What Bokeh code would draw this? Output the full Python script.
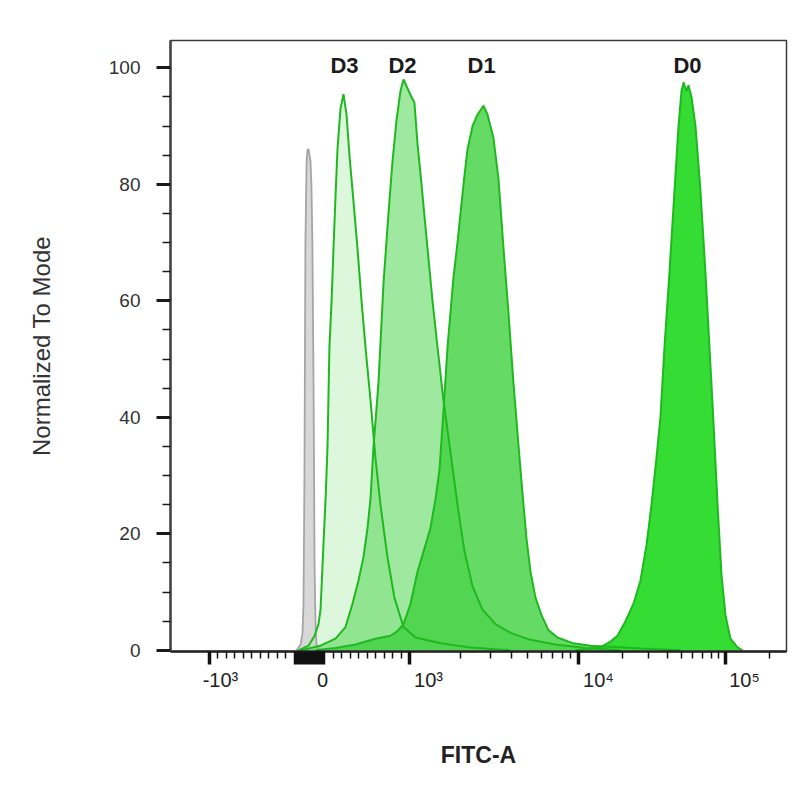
import numpy as np
from bokeh.plotting import figure
from bokeh.models import Range1d, FixedTicker, CustomJSTickFormatter, LinearAxis
from bokeh.core.properties import value
from bokeh.embed import file_html
from bokeh.resources import INLINE

# ---------------- data (FITC-A intensity, % of mode) ----------------
GRAY_X = [-54, -37, -29, -25, -21, -17, -12, -8, -4, 0, 4, 8, 12, 17, 21, 25, 29, 42]
GRAY_Y = [0, 1, 3, 8, 30, 70, 84, 86, 86, 85, 84, 80, 70, 45, 15, 5, 1, 0]

D3_X = [-46, -4, 21, 37.5, 46, 58, 67, 75, 83, 92, 100, 124, 147, 183, 218, 254,
        289, 337, 384, 432, 479, 538, 597, 656, 739, 822, 929, 1085, 1526, 2295, 3960]
D3_Y = [0, 0.8, 2.5, 4.5, 7, 18, 26, 35, 52, 60, 69, 78, 86, 93, 95.5, 92,
        85, 77, 69, 60, 52, 43, 33, 25, 16, 9, 4, 2.2, 1.2, 0.5, 0]

D2_X = [-37, 46, 124, 242, 325, 396, 455, 503, 538, 574, 633, 692, 751, 799, 846,
        893, 929, 976, 1028, 1070, 1115, 1178, 1278, 1368, 1465, 1588, 1748, 1923,
        2115, 2360, 2700, 3230, 3960, 5200, 7300, 11160, 19300]
D2_Y = [0, 0.8, 2, 4, 8, 12, 16, 21, 26, 35, 46, 63, 75, 84, 91,
        96, 98, 96.5, 95, 94, 87, 80, 69, 60, 52, 43, 34, 25,
        17, 11, 7, 4.5, 3, 1.8, 1, 0.4, 0]

D1_X = [25, 124, 360, 597, 775, 858, 929, 1014, 1115, 1227, 1331, 1425, 1505, 1588,
        1678, 1748, 1820, 1923, 2003, 2087, 2204, 2360, 2526, 2739, 2894, 3138, 3360,
        3600, 3850, 4120, 4420, 4660, 4930, 5200, 5570, 6050, 6630, 7510, 9330,
        12070, 16500, 26400, 49400]
D1_Y = [0, 0.4, 1, 2, 2.5, 3.3, 4.5, 8, 13.5, 17.5, 21, 26, 31, 41,
        52, 58, 64, 70, 75, 80, 86, 90, 92, 93.5, 92, 88, 81,
        69, 58, 46, 35, 27, 19, 13.5, 9, 6, 3.5, 2.2, 1.2,
        0.8, 0.6, 0.3, 0]

D0_X = [9590, 14110, 16500, 18420, 20880, 23670, 26400, 29000, 31380, 33900, 36100,
        38430, 41600, 45000, 47900, 50200, 51800, 54300, 56000, 58700, 62500, 67500,
        73000, 77800, 82900, 88300, 93900, 100000, 108100, 120700, 130500]
D0_Y = [0, 0.5, 1.5, 2.5, 5, 8, 12, 18, 25, 33, 40,
        52, 65, 79, 90, 96, 97.5, 96, 97, 95, 90, 79,
        65, 52, 39, 25, 13, 6, 2, 0.5, 0]

SERIES_NAMES = ["D0", "D1", "D2", "D3"]
PEAK_LABEL_X = [55100, 2670, 917, 230]
PEAK_LABEL_Y = [100.4, 100.4, 100.4, 100.4]

Y_TICKS = [0, 20, 40, 60, 80, 100]
Y_MINOR = [5, 10, 15, 25, 30, 35, 45, 50, 55, 65, 70, 75, 85, 90, 95]

X_TICK_VALUES = [-1000, 0, 1000, 10000, 100000]
X_TICK_LABELS = ["-10\u00b3", "0", "10\u00b3", "10\u2074", "10\u2075"]
X_NEAR_ZERO = [-60, -50, -40, -30, -20, -10, 10, 20, 30, 40, 50, 60]
X_MINOR_VALUES = ([-900, -800, -700, -600, -500, -400, -300, -200, -100]
                  + [100, 200, 300, 400, 500, 600, 700, 800, 900]
                  + [2000, 3000, 4000, 5000, 6000, 7000, 8000, 9000]
                  + [20000, 30000, 40000, 50000, 60000, 70000, 80000, 90000]
                  + [200000])

# ---------------- biexponential display scale ----------------
CAL_LIN_V = [-1000, -100, 100, 1000]
CAL_LIN_P = [-1.0, -0.24, 0.24, 1.0]
CAL_LOG_D = [3, 4, 5]
CAL_LOG_P = [1.0, 2.69, 4.16]


def biex(v):
    v = np.atleast_1d(np.asarray(v, dtype=float))
    out = np.empty_like(v)
    lo = v < -1000
    out[lo] = -1.0 + (v[lo] + 1000) * (0.76 / 900)
    lin = (v >= -1000) & (v <= 1000)
    out[lin] = np.interp(v[lin], CAL_LIN_V, CAL_LIN_P)
    hi = v > 1000
    d = np.log10(v[hi])
    out[hi] = np.where(d <= 5, np.interp(d, CAL_LOG_D, CAL_LOG_P), 4.16 + (d - 5) * 1.47)
    return out


FONT = "Liberation Sans"

p = figure(width=792, height=792,
           x_range=Range1d(-1.39, 4.77), y_range=Range1d(-0.2, 104.7),
           output_backend="svg", toolbar_location=None, x_axis_location=None,
           min_border_left=170, min_border_right=6,
           min_border_top=40, min_border_bottom=141)
p.grid.visible = False
p.background_fill_color = "white"
p.border_fill_color = "white"
p.outline_line_color = "#3a3a3a"
p.outline_line_width = 1.5

# fills
p.varea(x=biex(GRAY_X), y1=0, y2=GRAY_Y, fill_color="#d8d8d8", fill_alpha=1.0)
p.varea(x=biex(D3_X), y1=0, y2=D3_Y, fill_color="#9be89b", fill_alpha=0.35)
p.varea(x=biex(D2_X), y1=0, y2=D2_Y, fill_color="#5fd85f", fill_alpha=0.6)
p.varea(x=biex(D1_X), y1=0, y2=D1_Y, fill_color="#3fd13f", fill_alpha=0.8)
p.varea(x=biex(D0_X), y1=0, y2=D0_Y, fill_color="#34dc34", fill_alpha=1.0)

# outlines
p.line(x=biex(GRAY_X), y=GRAY_Y, line_color="#a5a5a5", line_width=1.8)
EDGE = "#1fb81f"
for xs, ys in [(D3_X, D3_Y), (D2_X, D2_Y), (D1_X, D1_Y), (D0_X, D0_Y)]:
    p.line(x=biex(xs), y=ys, line_color=EDGE, line_width=2)

# peak labels
p.text(x=biex(PEAK_LABEL_X), y=PEAK_LABEL_Y, text=SERIES_NAMES,
       text_font=value(FONT), text_font_style="bold", text_font_size="22px",
       text_color="#1a1a1a", text_align="center", text_baseline="alphabetic")

# y axis
ya = p.yaxis[0]
ya.ticker = FixedTicker(ticks=Y_TICKS, minor_ticks=Y_MINOR)
ya.axis_line_width = 2.5
ya.axis_line_color = "#444444"
ya.major_tick_in = 0
ya.major_tick_out = 14
ya.major_tick_line_width = 3
ya.major_tick_line_color = "#1a1a1a"
ya.minor_tick_in = 0
ya.minor_tick_out = 8
ya.minor_tick_line_width = 1.5
ya.minor_tick_line_color = "#1a1a1a"
ya.major_label_text_font = FONT
ya.major_label_text_font_size = "19px"
ya.major_label_text_color = "#333333"
ya.major_label_standoff = 16
ya.axis_label = "Normalized To Mode"
ya.axis_label_text_font = FONT
ya.axis_label_text_font_size = "24px"
ya.axis_label_text_font_style = "normal"
ya.axis_label_text_color = "#333333"
ya.axis_label_standoff = 51

# x axis: tick marks (biexponential positions)
xa = LinearAxis(
    ticker=FixedTicker(ticks=[float(t) for t in biex(X_TICK_VALUES + X_NEAR_ZERO)],
                       minor_ticks=[float(t) for t in biex(X_MINOR_VALUES)]),
    formatter=CustomJSTickFormatter(code="return ''"),
    axis_line_width=2.5, axis_line_color="#222222",
    major_tick_in=0, major_tick_out=13, major_tick_line_width=3.5,
    major_tick_line_color="#111111",
    minor_tick_in=0, minor_tick_out=7, minor_tick_line_width=1.5,
    minor_tick_line_color="#111111",
    major_label_standoff=0)
p.add_layout(xa, "below")

# x axis: tick labels (FlowJo places them just right of each tick)
LABEL_SHIFT = [0.11, 0.13, 0.19, 0.20, 0.19]
label_pos = [float(t) + s for t, s in zip(biex(X_TICK_VALUES), LABEL_SHIFT)]
xl = LinearAxis(
    ticker=FixedTicker(ticks=label_pos, minor_ticks=[]),
    formatter=CustomJSTickFormatter(args=dict(labels=X_TICK_LABELS),
                                    code="return labels[index]"),
    axis_line_color=None, major_tick_line_color=None, minor_tick_line_color=None,
    major_tick_in=0, major_tick_out=0, minor_tick_in=0, minor_tick_out=0,
    major_label_standoff=4,
    major_label_text_font=FONT, major_label_text_font_size="20px",
    major_label_text_color="#222222",
    axis_label="FITC-A", axis_label_text_font=FONT,
    axis_label_text_font_size="23px", axis_label_text_font_style="bold",
    axis_label_text_color="#222222", axis_label_standoff=48)
p.add_layout(xl, "below")

open("out.html", "w").write(file_html(p, INLINE))
